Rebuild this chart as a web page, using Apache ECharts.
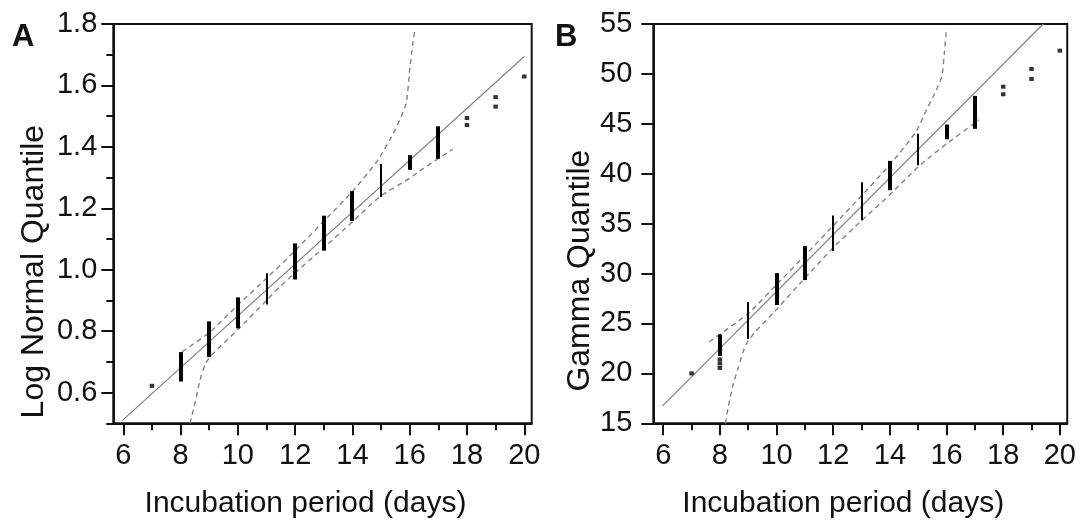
<!DOCTYPE html>
<html>
<head>
<meta charset="utf-8">
<script src="https://cdn.jsdelivr.net/npm/echarts@6/dist/echarts.min.js"></script>
<style>
  html, body { margin: 0; padding: 0; background: #fff; }
  #chart { width: 1079px; height: 525px; }
</style>
</head>
<body>
<div id="chart"></div>
<script>
// ---------- tick labels ----------
const dayTicks = [6, 8, 10, 12, 14, 16, 18, 20];
const dayMinorTicks = [7, 9, 11, 13, 15, 17, 19];
const logTicks = [0.6, 0.8, 1.0, 1.2, 1.4, 1.6, 1.8];
const logMinorTicks = [0.5, 0.7, 0.9, 1.1, 1.3, 1.5, 1.7];
const gammaTicks = [15, 20, 25, 30, 35, 40, 45, 50, 55];

// ---------- Panel A: log normal quantile ----------
// stacks of tied observations (vertical runs of points): day, lowest, highest quantile
const logStackDays = [8, 9, 10, 11, 12, 13, 14, 15, 16, 17];
const logStackLow  = [0.641, 0.721, 0.814, 0.892, 0.973, 1.067, 1.163, 1.242, 1.330, 1.366];
const logStackHigh = [0.727, 0.827, 0.905, 0.984, 1.081, 1.171, 1.251, 1.339, 1.368, 1.462];
// isolated points
const logDotDays = [7, 18, 18, 19, 19, 20];
const logDotVals = [0.622, 1.471, 1.494, 1.531, 1.562, 1.629];
// fitted line
const logFitX = [5.95, 20];
const logFitY = [0.508, 1.694];
// confidence bands
const logUpperX = [8.05, 9, 10, 11, 12, 13, 14, 14.85, 15.43, 15.87, 16.01, 16.1, 16.19];
const logUpperY = [0.733, 0.795, 0.885, 0.972, 1.062, 1.158, 1.255, 1.352, 1.444, 1.540, 1.661, 1.73, 1.786];
const logLowerX = [8.33, 8.5, 8.68, 8.85, 9.03, 10, 11, 11.47, 12, 13, 14, 14.96, 16, 16.48, 17.5];
const logLowerY = [0.5, 0.565, 0.641, 0.69, 0.717, 0.805, 0.9, 0.945, 0.99, 1.072, 1.156, 1.238, 1.298, 1.33, 1.392];

// ---------- Panel B: gamma quantile ----------
const gamStackDays = [8, 9, 10, 11, 12, 13, 14, 15, 16, 17];
const gamStackLow  = [21.9, 23.6, 27.0, 29.5, 32.4, 35.5, 38.5, 41.0, 43.6, 44.65];
const gamStackHigh = [23.75, 27.0, 29.9, 32.6, 35.67, 39.0, 41.14, 43.85, 44.78, 47.65];
const gamDotDays = [7, 8, 8, 8, 18, 18, 19, 19, 20];
const gamDotVals = [20.0, 21.4, 21.0, 20.55, 47.96, 48.72, 49.49, 50.49, 52.33];
const gamFitX = [5.97, 19.41];
const gamFitY = [16.72, 55];
const gamUpperX = [7.63, 9, 10, 11, 12, 13, 14, 14.92, 15.29, 15.59, 15.83, 15.92, 16.0];
const gamUpperY = [23.17, 26.0, 28.9, 31.8, 34.8, 37.8, 40.9, 44.2, 46.4, 48.07, 49.7, 52.0, 54.6];
const gamLowerX = [8.2, 8.3, 8.45, 8.65, 8.91, 9.26, 9.9, 10.89, 12, 13, 14, 15, 16, 16.91, 17.15];
const gamLowerY = [15.0, 16.7, 18.7, 20.6, 22.84, 24.2, 26.1, 29.2, 32.6, 35.3, 37.9, 40.7, 43.0, 44.9, 45.4];

// ---------- styles ----------
const thinDaysA = [11, 15];
const thinDaysB = [9, 12, 13, 15];
const INK = '#111';
const FONT = '"Liberation Sans", Arial, sans-serif';
const LINE_GRAY = '#828282';

const zip = (xs, ys) => xs.map((x, i) => [x, ys[i]]);
const stacks = (d, lo, hi) => d.map((x, i) => [x, lo[i], hi[i]]);

function makeStackRender(thin) {
  return function (params, api) {
    const x = api.value(0), lo = api.value(1), hi = api.value(2);
    const pTop = api.coord([x, hi]);
    const pBot = api.coord([x, lo]);
    const w = thin.indexOf(x) >= 0 ? 2 : 4;
    return {
      type: 'rect',
      shape: { x: Math.round(pTop[0] - w / 2), y: pTop[1] - 1.5, width: w, height: pBot[1] - pTop[1] + 3 },
      style: { fill: '#000' }
    };
  };
}

const X_MIN = 5.65, X_MAX = 20.26;

function mainX(grid, nameShift) {
  return {
    gridIndex: grid, type: 'value', min: X_MIN, max: X_MAX, position: 'bottom',
    axisLine: { show: true, onZero: false, lineStyle: { color: INK, width: 2 } },
    axisTick: { show: true, customValues: dayTicks, length: 12, lineStyle: { color: INK, width: 2 } },
    axisLabel: { customValues: dayTicks, fontSize: 29, color: INK, fontFamily: FONT, margin: 18 },
    splitLine: { show: false },
    name: 'Incubation period (days)', nameLocation: 'middle', nameGap: 65,
    nameTextStyle: { fontSize: 30, color: INK, fontFamily: FONT, padding: [0, nameShift, 0, 0] }
  };
}
function minorX(grid) {
  return {
    gridIndex: grid, type: 'value', min: X_MIN, max: X_MAX, position: 'bottom', offset: 0,
    axisLine: { show: false, onZero: false },
    axisTick: { show: true, customValues: dayMinorTicks, length: 7, lineStyle: { color: INK, width: 2 } },
    axisLabel: { show: false },
    splitLine: { show: false }
  };
}

const option = {
  animation: false,
  backgroundColor: '#fff',
  grid: [
    { left: 113.3, top: 24, right: 547.3, bottom: 101.7, show: true, borderColor: INK, borderWidth: 2, backgroundColor: 'transparent' },
    { left: 653.3, top: 24, right: 7.3, bottom: 101.7, show: true, borderColor: INK, borderWidth: 2, backgroundColor: 'transparent' }
  ],
  xAxis: [mainX(0, 34), minorX(0), mainX(1, 34), minorX(1)],
  yAxis: [
    {
      gridIndex: 0, type: 'value', min: 0.5, max: 1.8, position: 'left',
      axisLine: { show: true, onZero: false, lineStyle: { color: INK, width: 2 } },
      axisTick: { show: true, customValues: logTicks, length: 12, lineStyle: { color: INK, width: 2 } },
      axisLabel: { customValues: logTicks, fontSize: 29, color: INK, fontFamily: FONT, margin: 16,
        formatter: v => Number(v).toFixed(1) },
      splitLine: { show: false },
      name: 'Log Normal Quantile', nameLocation: 'middle', nameGap: 63,
      nameTextStyle: { fontSize: 32, color: INK, fontFamily: FONT, padding: [0, 96, 0, 0] }
    },
    {
      gridIndex: 0, type: 'value', min: 0.5, max: 1.8, position: 'left', offset: 0,
      axisLine: { show: false, onZero: false },
      axisTick: { show: true, customValues: logMinorTicks, length: 7, lineStyle: { color: INK, width: 2 } },
      axisLabel: { show: false },
      splitLine: { show: false }
    },
    {
      gridIndex: 1, type: 'value', min: 15, max: 55, position: 'left',
      axisLine: { show: true, onZero: false, lineStyle: { color: INK, width: 2 } },
      axisTick: { show: true, customValues: gammaTicks, length: 12, lineStyle: { color: INK, width: 2 } },
      axisLabel: { customValues: gammaTicks, fontSize: 29, color: INK, fontFamily: FONT, margin: 21 },
      splitLine: { show: false },
      name: 'Gamma Quantile', nameLocation: 'middle', nameGap: 57,
      nameTextStyle: { fontSize: 32, color: INK, fontFamily: FONT, padding: [0, 94, 0, 0] }
    }
  ],
  graphic: [
    { type: 'text', left: 12, top: 22, style: { text: 'A', font: 'bold 31px ' + FONT, fill: INK } },
    { type: 'text', left: 555, top: 22, style: { text: 'B', font: 'bold 31px ' + FONT, fill: INK } }
  ],
  series: [
    // Panel A
    { type: 'line', xAxisIndex: 0, yAxisIndex: 0, data: zip(logFitX, logFitY), showSymbol: false,
      lineStyle: { color: LINE_GRAY, width: 1.2 }, z: 2 },
    { type: 'line', xAxisIndex: 0, yAxisIndex: 0, data: zip(logUpperX, logUpperY), showSymbol: false, smooth: 0.2,
      lineStyle: { color: LINE_GRAY, width: 1.4, type: [5, 4] }, z: 2 },
    { type: 'line', xAxisIndex: 0, yAxisIndex: 0, data: zip(logLowerX, logLowerY), showSymbol: false, smooth: 0.2,
      lineStyle: { color: LINE_GRAY, width: 1.4, type: [5, 4] }, z: 2 },
    { type: 'custom', xAxisIndex: 0, yAxisIndex: 0, data: stacks(logStackDays, logStackLow, logStackHigh),
      renderItem: makeStackRender(thinDaysA), z: 3 },
    { type: 'scatter', xAxisIndex: 0, yAxisIndex: 0, data: zip(logDotDays, logDotVals),
      symbol: 'rect', symbolSize: [4.5, 4], itemStyle: { color: '#000' }, z: 3 },
    // Panel B
    { type: 'line', xAxisIndex: 2, yAxisIndex: 2, data: zip(gamFitX, gamFitY), showSymbol: false,
      lineStyle: { color: LINE_GRAY, width: 1.2 }, z: 2 },
    { type: 'line', xAxisIndex: 2, yAxisIndex: 2, data: zip(gamUpperX, gamUpperY), showSymbol: false, smooth: 0.2,
      lineStyle: { color: LINE_GRAY, width: 1.4, type: [5, 4] }, z: 2 },
    { type: 'line', xAxisIndex: 2, yAxisIndex: 2, data: zip(gamLowerX, gamLowerY), showSymbol: false, smooth: 0.2,
      lineStyle: { color: LINE_GRAY, width: 1.4, type: [5, 4] }, z: 2 },
    { type: 'custom', xAxisIndex: 2, yAxisIndex: 2, data: stacks(gamStackDays, gamStackLow, gamStackHigh),
      renderItem: makeStackRender(thinDaysB), z: 3 },
    { type: 'scatter', xAxisIndex: 2, yAxisIndex: 2, data: zip(gamDotDays, gamDotVals),
      symbol: 'rect', symbolSize: [4.5, 4], itemStyle: { color: '#000' }, z: 3 }
  ]
};

const chart = echarts.init(document.getElementById('chart'), null, { renderer: 'canvas' });
chart.setOption(option);
</script>
</body>
</html>
